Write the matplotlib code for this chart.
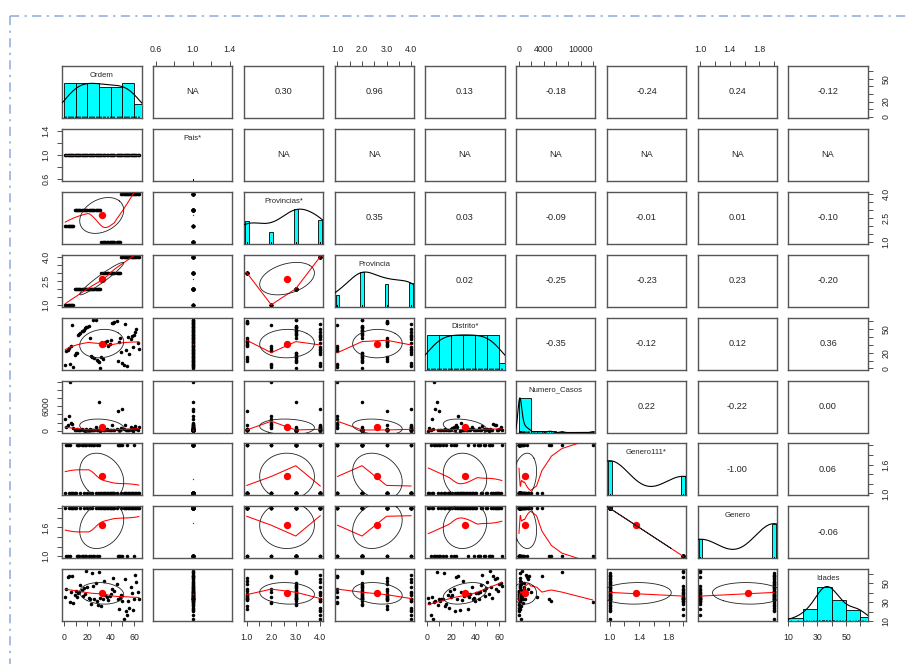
import numpy as np
import matplotlib
matplotlib.use("Agg")
import matplotlib.pyplot as plt
from matplotlib.lines import Line2D

plt.rcParams['font.family'] = ['Liberation Sans', 'DejaVu Sans']

# ---------------------------------------------------------------- data
var_names = ["Ordem", "Pais*", "Provincias*", "Provincia", "Distrito*",
             "Numero_Casos", "Genero111*", "Genero", "Idades"]

ordem = [1, 2, 3, 4, 5, 6, 7, 8, 9, 10, 11, 12, 13, 14, 15, 16, 17, 18, 19, 20,
         21, 22, 23, 24, 25, 26, 27, 28, 29, 30, 31, 32, 33, 34, 35, 37, 38, 39,
         40, 41, 42, 43, 45, 46, 47, 48, 49, 50, 51, 52, 53, 54, 55, 56, 57, 58,
         59, 60, 61, 62, 63, 64]

pais = [1] * 62

provincias = [2, 2, 2, 2, 2, 2, 2, 2,
              3, 3, 3, 3, 3, 3, 3, 3, 3, 3, 3, 3, 3, 3, 3, 3, 3, 3, 3, 3, 3, 3, 3,
              1, 1, 1, 1, 1, 1, 1, 1, 1, 1, 1, 1, 1, 1, 1,
              4, 4, 4, 4, 4, 4, 4, 4, 4, 4, 4, 4, 4, 4, 4, 4]

provincia = [1, 1, 1, 1, 1, 1, 1, 1,
             2, 2, 2, 2, 2, 2, 2, 2, 2, 2, 2, 2, 2, 2, 2, 2, 2, 2, 2, 2, 2, 2, 2,
             3, 3, 3, 3, 3, 3, 3, 3, 3, 3, 3, 3, 3, 3, 3,
             4, 4, 4, 4, 4, 4, 4, 4, 4, 4, 4, 4, 4, 4, 4, 4]

distrito = [4, 22, 24, 26, 6, 28, 55, 2,
            17, 19, 20, 42, 44, 45, 47, 48, 49, 51, 52, 53, 54, 38, 16, 14, 62,
            13, 61, 11, 9, 8, 1,
            15, 12, 30, 33, 35, 29, 31, 36, 57, 58, 59, 60, 10, 34, 39,
            21, 7, 5, 56, 23, 3, 40, 18, 37, 41, 27, 43, 46, 50, 32, 25]

numero_casos = [2860, 900, 1300, 3720, 11900, 1900, 1700, 600,
                150, 80, 300, 120, 60, 200, 400, 90, 250, 30, 500, 180, 70, 350,
                40, 220, 130, 60, 800, 110, 40, 6950, 20,
                300, 90, 150, 60, 500, 250, 80, 40, 1400, 200, 100, 350, 4830,
                120, 60,
                700, 5260, 300, 1500, 90, 40, 200, 60, 900, 150, 30, 600, 1100,
                400, 80, 1000]

genero111 = [1, 2, 2, 1, 2, 1, 1, 1,
             1, 1, 2, 2, 2, 1, 2, 2, 1, 2, 2, 1, 2, 1, 2, 1, 2, 2, 1, 2, 1, 2, 1,
             1, 1, 1, 1, 1, 1, 1, 1, 1, 1, 1, 1, 2, 2, 2,
             1, 2, 1, 1, 1, 2, 1, 1, 1, 1, 1, 2, 1, 1, 1, 1]

genero = [2, 1, 1, 2, 1, 2, 2, 2,
          2, 2, 1, 1, 1, 2, 1, 1, 2, 1, 1, 2, 1, 2, 1, 2, 1, 1, 2, 1, 2, 1, 2,
          2, 2, 2, 2, 2, 2, 2, 2, 2, 2, 2, 2, 1, 1, 1,
          2, 1, 2, 2, 2, 1, 2, 2, 2, 2, 2, 1, 2, 2, 2, 2]

idades = [36, 44, 57, 58, 30, 41, 58, 29,
          38, 42, 36, 40, 41, 48, 43, 37, 45, 39, 63, 46, 35, 34, 28, 61, 47,
          33, 50, 31, 27, 62, 35,
          26, 34, 53, 38, 36, 32, 37, 39, 44, 56, 42, 49, 33, 23, 35,
          38, 31, 12, 55, 21, 17, 31, 24, 46, 40, 22, 34, 59, 52, 41, 33]

# Pearson correlations shown in the upper triangle (None = NA)
corr_upper = [
    [None, 0.30, 0.96, 0.13, -0.18, -0.24, 0.24, -0.12],
    [None, None, None, None, None, None, None],
    [0.35, 0.03, -0.09, -0.01, 0.01, -0.10],
    [0.02, -0.25, -0.23, 0.23, -0.20],
    [-0.35, -0.12, 0.12, 0.36],
    [0.22, -0.22, 0.00],
    [-1.00, 0.06],
    [-0.06],
]

# labelled ticks on the horizontal (top/bottom) and vertical (left/right) axes
x_tick_labels = [["0", "20", "40", "60"], ["0.6", "1.0", "1.4"],
                 ["1.0", "2.0", "3.0", "4.0"], ["1.0", "2.0", "3.0", "4.0"],
                 ["0", "20", "40", "60"], ["0", "4000", "10000"],
                 ["1.0", "1.4", "1.8"], ["1.0", "1.4", "1.8"], ["10", "30", "50"]]
y_tick_labels = [["0", "20", "50"], ["0.6", "1.0", "1.4"], ["1.0", "2.5", "4.0"],
                 ["1.0", "2.5", "4.0"], ["0", "20", "50"], ["0", "6000"],
                 ["1.0", "1.6"], ["1.0", "1.6"], ["10", "30", "50"]]

columns = [ordem, pais, provincias, provincia, distrito, numero_casos,
           genero111, genero, idades]
data = [np.asarray(c, dtype=float) for c in columns]
nv = len(data)


# ---------------------------------------------------------------- helpers
def usr_range(v):
    lo, hi = v.min(), v.max()
    if hi == lo:
        d = 0.4 * abs(lo) if lo != 0 else 1.0
        lo, hi = lo - d, hi + d
    pad = 0.04 * (hi - lo)
    return lo - pad, hi + pad


def pretty_unit(lo, hi, n):
    cell = (hi - lo) / n
    base = 10.0 ** np.floor(np.log10(cell))
    unit = base
    if 2 * base - cell < 1.5 * (cell - unit):
        unit = 2 * base
        if 5 * base - cell < 2.75 * (cell - unit):
            unit = 5 * base
            if 10 * base - cell < 1.5 * (cell - unit):
                unit = 10 * base
    return unit


def axis_ticks(lo, hi):
    unit = pretty_unit(lo, hi, 5)
    k = np.arange(np.ceil(lo / unit - 1e-9), np.floor(hi / unit + 1e-9) + 1)
    return k * unit, unit


def hist_breaks(v):
    ncl = int(np.ceil(np.log2(len(v)) + 1))
    unit = pretty_unit(v.min(), v.max(), ncl)
    k = np.arange(np.floor(v.min() / unit + 1e-7),
                  np.ceil(v.max() / unit - 1e-7) + 1)
    return k * unit


def bw_nrd(v):
    q75, q25 = np.percentile(v, [75, 25])
    h = (q75 - q25) / 1.34
    return 1.06 * min(np.std(v, ddof=1), h) * len(v) ** (-0.2)


def density(v, adjust=1.2, npts=512):
    bw = bw_nrd(v) * adjust
    gx = np.linspace(v.min() - 3 * bw, v.max() + 3 * bw, npts)
    gy = np.exp(-0.5 * ((gx[:, None] - v[None, :]) / bw) ** 2).sum(axis=1)
    return gx, gy / gy.max()


def lowess(x, y, f=2 / 3, iters=3):
    o = np.argsort(x, kind='mergesort')
    x = np.asarray(x, float)[o]
    y = np.asarray(y, float)[o]
    n = len(x)
    ns = max(min(int(f * n + 1e-7), n), 2)
    rw = np.ones(n)
    ys = np.zeros(n)
    xr = x[-1] - x[0]
    for it in range(iters + 1):
        for i in range(n):
            d = np.abs(x - x[i])
            h = np.sort(d)[ns - 1]
            m = d <= 0.999 * h
            w = np.zeros(n)
            r = d[m]
            if h > 0:
                ww = np.where(r <= 0.001 * h, 1.0, (1 - (r / h) ** 3) ** 3)
            else:
                ww = np.ones(r.size)
            w[m] = ww * rw[m]
            a = w.sum()
            if a <= 0:
                ys[i] = y[i]
                continue
            w = w / a
            if h > 0:
                a = np.sum(w * x)
                b = x[i] - a
                c = np.sum(w * (x - a) ** 2)
                if np.sqrt(c) > 0.001 * xr:
                    w = w * (b / c * (x - a) + 1.0)
            ys[i] = np.sum(w * y)
        if it == iters:
            break
        res = y - ys
        sc = np.mean(np.abs(res))
        cmad = 6 * np.median(np.abs(res))
        if cmad < 1e-7 * sc or cmad == 0:
            break
        ar = np.abs(res)
        rw = np.where(ar <= 0.001 * cmad, 1.0,
                      np.where(ar <= 0.999 * cmad, (1 - (ar / cmad) ** 2) ** 2, 0.0))
    return x, ys


def ellipse_xy(xm, ym, xs, ys, r, seg=51):
    ang = np.arange(seg + 1) * 2 * np.pi / seg
    uc = np.column_stack([np.cos(ang), np.sin(ang)])
    th = np.sign(r) / np.sqrt(2) if abs(r) > 0 else 1 / np.sqrt(2)
    shape = np.diag([np.sqrt(1 + r), np.sqrt(max(1 - r, 0))]) @ \
        np.array([[th, th], [-th, th]])
    e = uc @ shape
    return e[:, 0] * xs + xm, e[:, 1] * ys + ym


def corr_of(a, b):
    if a > b:
        a, b = b, a
    return corr_upper[a][b - a - 1]


# ---------------------------------------------------------------- figure
W, H = 909.0, 664.0
fig = plt.figure(figsize=(W / 100, H / 100), dpi=100)
fig.patch.set_facecolor('white')

col_left0, col_pitch, panel_w = 62.3, 90.75, 79.4
row_top0, row_pitch, panel_h = 66.0, 62.9, 52.0

lims = [usr_range(v) for v in data]
TXT = '#262626'
SPINE = '#555555'
TICK_KW = dict(length=3.6, width=0.6, color='#333333', labelcolor=TXT,
               labelsize=6.3, pad=5.0, direction='out')


def add_axis(ax, side, k):
    lo, hi = lims[k]
    ticks, unit = axis_ticks(lo, hi)
    dec = 1 if unit < 1 else 0
    shown = x_tick_labels[k] if side in ('top', 'bottom') else y_tick_labels[k]
    labels = []
    for t in ticks:
        s = f"{t + 0.0:.{dec}f}"
        labels.append(s if s in shown else "")
    if side in ('top', 'bottom'):
        ax.set_xticks(ticks)
        ax.set_xticklabels(labels)
        ax.set_xlim(lo, hi)
        top = side == 'top'
        ax.tick_params(axis='x', top=top, bottom=not top, labeltop=top,
                       labelbottom=not top, **TICK_KW)
    else:
        ax.set_yticks(ticks)
        ax.set_yticklabels(labels, rotation=90, va='center')
        ax.set_ylim(lo, hi)
        right = side == 'right'
        pad = 6.5 if right else 5.0
        kw = dict(TICK_KW, pad=pad)
        ax.tick_params(axis='y', left=not right, right=right,
                       labelleft=not right, labelright=right, **kw)


def overlay(rect, ax, lim):
    """Transparent axes on top of a diagonal panel, y running 0..1.5."""
    o = fig.add_axes(rect, sharex=ax)
    o.set_xlim(lim)
    o.set_ylim(0, 1.5)
    o.axis('off')
    return o


for i in range(nv):
    for j in range(nv):
        left = (col_left0 + j * col_pitch) / W
        bottom = 1 - (row_top0 + i * row_pitch + panel_h) / H
        rect = [left, bottom, panel_w / W, panel_h / H]
        ax = fig.add_axes(rect)
        ax.set_xlim(lims[j])
        ax.set_ylim(lims[i])
        ax.set_xticks([])
        ax.set_yticks([])
        for sp in ax.spines.values():
            sp.set_color(SPINE)
            sp.set_linewidth(1.0)

        if i == j:
            v = data[i]
            hax = overlay(rect, ax, lims[i])      # histogram bars
            dax = overlay(rect, ax, lims[i])      # density, rug and name
            vals, cnts = np.unique(v, return_counts=True)
            if len(vals) > 1:
                if len(vals) < 11:
                    half = np.min(np.diff(vals)) * (len(vals) - 1) / 41
                    hax.bar(vals, cnts / cnts.max(), width=2 * half,
                            align='center', color='cyan', edgecolor='black',
                            linewidth=0.6)
                else:
                    br = hist_breaks(v)
                    idx = np.clip(np.searchsorted(br, v, side='left') - 1,
                                  0, len(br) - 2)
                    cnt = np.bincount(idx, minlength=len(br) - 1)
                    hax.bar(br[:-1], cnt / cnt.max(), width=np.diff(br),
                            align='edge', color='cyan', edgecolor='black',
                            linewidth=0.6)
                gx, gy = density(v)
                dax.plot(gx, gy, color='black', lw=0.8)
            dax.vlines(v, 0, 0.045, color='black', lw=0.5)
            dax.text(0.5, 0.82, var_names[i], transform=dax.transAxes,
                     ha='center', va='center', fontsize=5.6, color=TXT)
            for a in (hax, dax):
                a.set_xlim(lims[i])
                a.set_ylim(0, 1.5)
        elif i < j:
            r = corr_of(i, j)
            txt = "NA" if r is None else f"{r:.2f}"
            ax.text(0.5, 0.5, txt, transform=ax.transAxes, ha='center',
                    va='center', fontsize=6.6, color=TXT)
        else:
            x, y = data[j], data[i]
            ax.scatter(x, y, s=6.5, c='black', marker='o', linewidths=0, zorder=2)
            lx, ly = lowess(x, y)
            if np.ptp(lx) == 0:
                ax.plot(lx[:1], ly[:1], 'o', color='red', ms=1.0, mew=0, zorder=3)
            else:
                ax.plot(lx, ly, color='red', lw=0.75, zorder=3)
            r = corr_of(j, i)
            if r is not None and x.std() > 0 and y.std() > 0:
                ax.scatter([x.mean()], [y.mean()], s=28, c='red', marker='o',
                           linewidths=0, zorder=4)
                ex, ey = ellipse_xy(x.mean(), y.mean(), x.std(ddof=1),
                                    y.std(ddof=1), r)
                ax.plot(ex, ey, color='#222222', lw=0.6, zorder=5)
            ax.set_xlim(lims[j])
            ax.set_ylim(lims[i])

        if i == 0 and (j + 1) % 2 == 0:
            add_axis(ax, 'top', j)
        if i == nv - 1 and (j + 1) % 2 == 1:
            add_axis(ax, 'bottom', j)
        if j == 0 and (i + 1) % 2 == 0:
            add_axis(ax, 'left', i)
        if j == nv - 1 and (i + 1) % 2 == 1:
            add_axis(ax, 'right', i)

# dash-dot frame along the top and left edges
frame_kw = dict(transform=fig.transFigure, color='#8eaadb', lw=1.1,
                linestyle=(0, (6, 3.5, 1.5, 3.5)))
fig.add_artist(Line2D([10 / W, 1.0], [1 - 15.7 / H] * 2, **frame_kw))
fig.add_artist(Line2D([10 / W] * 2, [1 - 15.7 / H, 0.0], **frame_kw))

fig.savefig('out.png', dpi=100)
